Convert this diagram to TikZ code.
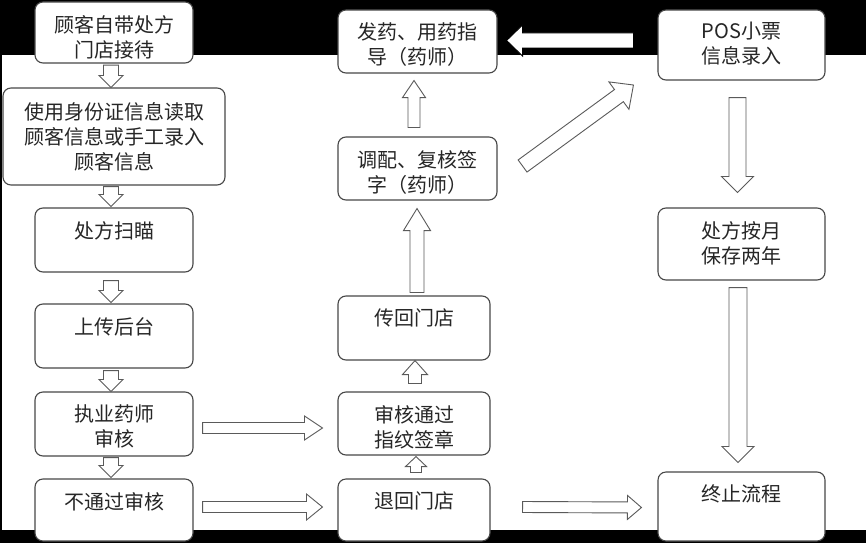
\documentclass[tikz,border=0pt]{standalone}
\usepackage{fontspec}
\newfontfamily\cjk{Noto Sans CJK SC}
\usetikzlibrary{calc}
\definecolor{boxc}{HTML}{474747}
\definecolor{arrc}{HTML}{5A5A5A}
\definecolor{txtc}{HTML}{262626}
\tikzset{
  ash/.store in=\arrS, ahd/.store in=\arrH, alen/.store in=\arrL,
  ash=7.5pt, ahd=12pt, alen=12pt,
  blk/.style={draw=arrc, fill=white, line width=0.9pt, line join=miter,
    to path={
      ($(\tikztostart)!\arrS!90:(\tikztotarget)$)
      -- ($($(\tikztotarget)!\arrL!(\tikztostart)$)!\arrS!90:(\tikztotarget)$)
      -- ($($(\tikztotarget)!\arrL!(\tikztostart)$)!\arrH!90:(\tikztotarget)$)
      -- (\tikztotarget)
      -- ($($(\tikztotarget)!\arrL!(\tikztostart)$)!\arrH!-90:(\tikztotarget)$)
      -- ($($(\tikztotarget)!\arrL!(\tikztostart)$)!\arrS!-90:(\tikztotarget)$)
      -- ($(\tikztostart)!\arrS!-90:(\tikztotarget)$)
      -- cycle}},
  box/.style={draw=boxc, fill=white, rounded corners=8pt, line width=1.1pt,
    inner sep=0pt, rectangle},
  txt/.style={font=\cjk\fontsize{20}{25}\selectfont, align=center,
    inner sep=0pt, text=txtc, anchor=north}
}
\begin{document}
\begin{tikzpicture}[x=1pt,y=-1pt]
\useasboundingbox (0,0) rectangle (866,543);
\fill[black] (0,0) rectangle (866,543);
\fill[white] (2,55) rectangle (866,530);
% left column
\node[box, minimum width=158pt, minimum height=61pt] (b1) at (114,32.5) {};
\node[box, minimum width=222pt, minimum height=97pt] (b2) at (114,136.5) {};
\node[box, minimum width=158pt, minimum height=64pt] (b3) at (114,240) {};
\node[box, minimum width=158pt, minimum height=64pt] (b4) at (114,336) {};
\node[box, minimum width=158pt, minimum height=64pt] (b5) at (114,424) {};
\node[box, minimum width=158pt, minimum height=62pt] (b6) at (114,510) {};
% middle column
\node[box, minimum width=159pt, minimum height=63pt] (m1) at (417.5,41.5) {};
\node[box, minimum width=159pt, minimum height=63pt] (m2) at (417.5,168.5) {};
\node[box, minimum width=152pt, minimum height=64pt] (m3) at (414,328) {};
\node[box, minimum width=152pt, minimum height=63pt] (m4) at (414,423.5) {};
\node[box, minimum width=152pt, minimum height=62pt] (m5) at (414,510) {};
% right column
\node[box, minimum width=167pt, minimum height=70pt] (r1) at (741.5,45) {};
\node[box, minimum width=167pt, minimum height=72pt] (r2) at (741.5,244) {};
\node[box, minimum width=167pt, minimum height=69pt] (r3) at (741.5,506.5) {};
% texts
\node[txt] (t1) at ($(b1.north)+(0,13.5)$) {顾客自带处方\\门店接待};
\node[txt] (t2) at ($(b2.north)+(0,15)$) {使用身份证信息读取\\顾客信息或手工录入\\顾客信息};
\node[txt] (t3) at ($(b3.north)+(0,14)$) {处方扫瞄};
\node[txt] (t4) at ($(b4.north)+(0,14)$) {上传后台};
\node[txt] (t5) at ($(b5.north)+(0,13.5)$) {执业药师\\审核};
\node[txt] (t6) at ($(b6.north)+(0,13.5)$) {不通过审核};
\node[txt] (t7) at ($(m1.north)+(0,12.5)$) {发药、用药指\\导（药师）};
\node[txt] (t8) at ($(m2.north)+(0,13.5)$) {调配、复核签\\字（药师）};
\node[txt] (t9) at ($(m3.north)+(0,13.5)$) {传回门店};
\node[txt] (t10) at ($(m4.north)+(0,13.5)$) {审核通过\\指纹签章};
\node[txt] (t11) at ($(m5.north)+(0,13.5)$) {退回门店};
\node[txt] (t12) at ($(r1.north)+(0,12.5)$) {POS小票\\信息录入};
\node[txt] (t13) at ($(r2.north)+(0,13.5)$) {处方按月\\保存两年};
\node[txt] (t14) at ($(r3.north)+(0,13.5)$) {终止流程};
% left column arrows
\draw[blk] ($(b1.south)+(-3,1.5)$) to ($(b2.north)+(-3,0)$);
\draw[blk] ($(b2.south)+(-3,1)$) to ($(b3.north)+(-3,-1)$);
\draw[blk] ($(b3.south)+(-3,8)$) to ($(b4.north)+(-3,-1)$);
\draw[blk] ($(b4.south)+(-3,2)$) to ($(b5.north)+(-3,0)$);
\draw[blk] ($(b5.south)+(-3,1)$) to ($(b6.north)+(-3,-1)$);
% horizontal arrows
\draw[blk, ash=5.5pt, ahd=12pt, alen=18pt] ($(b5.east)+(9,4)$) to ($(m4.west)+(-15,4.5)$);
\draw[blk, ash=5.5pt, ahd=13pt, alen=16pt] ($(b6.east)+(9,-3)$) to ($(m5.west)+(-15,-3)$);
\draw[blk, ash=5.5pt, ahd=12pt, alen=14pt] ($(m5.east)+(32,-3)$) to ($(r3.west)+(-16,1)$);
% middle column arrows
\draw[blk, ash=5.5pt, ahd=10.5pt, alen=10pt] ($(m5.north)+(2,-6)$) to ($(m4.south)+(2,1)$);
\draw[blk, ash=6.5pt, ahd=12.5pt, alen=14pt] ($(m4.north)+(1,-8)$) to ($(m3.south)+(1,0)$);
\draw[blk, ash=7pt, ahd=13.5pt, alen=22pt] ($(m3.north)+(3,-3)$) to ($(m2.south)+(-0.5,8)$);
\draw[blk, ash=6pt, ahd=11.5pt, alen=17pt] ($(m2.north)+(-3.5,-9)$) to ($(m1.south)+(-3.5,7)$);
% diagonal arrow
\draw[blk, ash=7.5pt, ahd=17pt, alen=18pt] ($(m2.east)+(25,-2.5)$) to ($(r1.west)+(-24,40)$);
% top arrow (white on black)
\draw[blk, draw=black, ash=7.5pt, ahd=15.5pt, alen=16pt] ($(r1.west)+(-24,-4.5)$) to ($(m1.east)+(9,-1)$);
% right column arrows
\draw[blk, ash=8.5pt, ahd=16pt, alen=16pt] ($(r1.south)+(-4,17)$) to ($(r2.north)+(-4,-15)$);
\draw[blk, ash=9pt, ahd=16pt, alen=16pt] ($(r2.south)+(-3.5,7)$) to ($(r3.north)+(-3.5,-9)$);
\end{tikzpicture}
\end{document}
